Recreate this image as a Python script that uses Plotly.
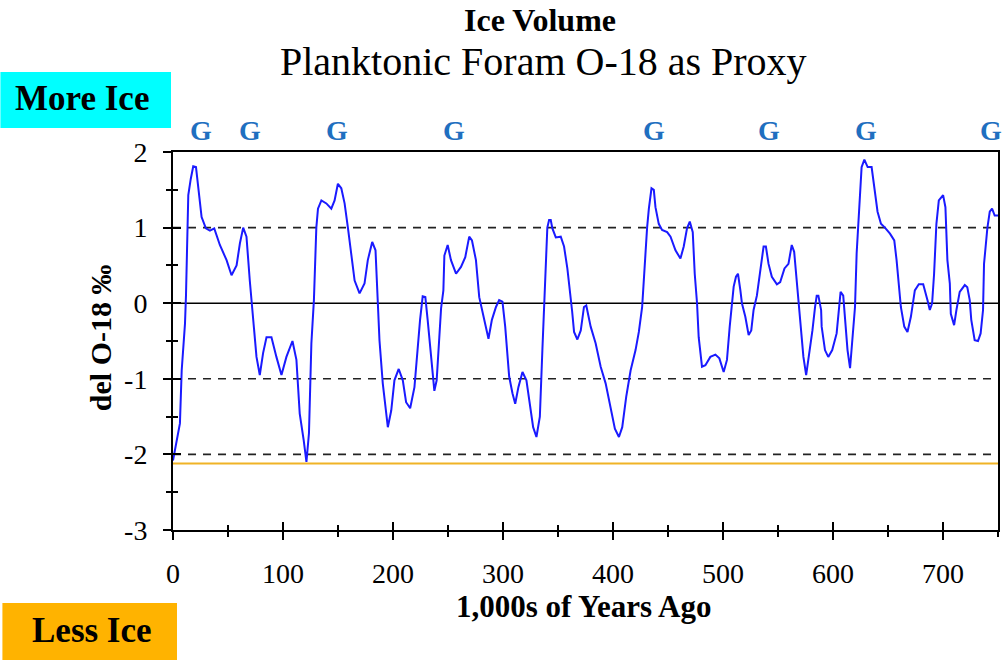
import plotly.graph_objects as go

# ---------------- data ----------------
years_ago = [0, 4.8, 6.3, 7.9, 10.9, 11.8, 13.0, 13.9, 16.1, 18.4, 20.9, 22.9, 26.0, 29.9, 33.6, 37.5,
             42.6, 48.7, 53.2, 57.8, 60.8, 63.8, 66.8, 69.8, 72.3, 72.8, 75.9, 78.9, 81.9, 85.0, 89.5,
             94.0, 98.6, 103.1, 108.6, 112.2, 115.2, 118.8, 121.3, 123.6, 125.8, 128.1, 128.8, 130.3,
             131.8, 134.9, 139.4, 143.9, 146.9, 149.9, 153.0, 156.0, 159.0, 162.1, 165.1, 169.6, 174.1,
             177.1, 181.1, 184.1, 186.2, 187.7, 190.7, 195.3, 198.4, 201.3, 205.2, 208.9, 211.9, 215.6,
             219.5, 222.5, 224.6, 227.0, 229.4, 231.5, 233.1, 236.1, 237.6, 239.7, 242.1, 243.7, 245.8,
             246.7, 249.7, 252.7, 257.3, 261.8, 265.7, 269.3, 271.8, 275.4, 278.4, 281.4, 284.5, 286.8,
             289.9, 293.6, 296.5, 299.5, 302.0, 305.6, 308.6, 311.1, 314.0, 317.7, 321.3, 324.4, 327.4,
             330.4, 333.5, 335.8, 337.4, 338.9, 340.3, 341.9, 343.4, 344.9, 348.0, 352.5, 355.5, 358.5,
             361.6, 362.8, 364.6, 367.6, 370.7, 373.6, 375.7, 379.7, 384.2, 388.8, 393.3, 397.8, 401.7,
             405.4, 408.4, 412.0, 416.0, 420.5, 423.5, 426.5, 428.0, 431.0, 432.6, 435.0, 437.1, 438.6,
             441.6, 444.6, 449.2, 452.3, 456.8, 461.3, 464.3, 467.3, 469.8, 472.5, 474.3, 476.4, 477.9,
             480.9, 484.0, 488.5, 493.1, 496.7, 500.6, 503.6, 506.1, 508.1, 509.7, 511.8, 513.6, 515.8,
             517.2, 520.3, 523.3, 525.7, 527.8, 530.8, 533.9, 536.9, 539.0, 541.4, 544.4, 549.0, 552.0,
             555.9, 559.5, 562.5, 564.7, 567.1, 569.2, 570.1, 573.1, 575.6, 578.6, 581.3, 583.7, 585.2,
             586.7, 589.2, 589.7, 592.7, 595.7, 599.3, 603.3, 605.5, 606.9, 609.3, 610.9, 613.2, 615.5,
             617.5, 620.0, 621.5, 623.0, 624.6, 626.0, 628.5, 631.5, 635.1, 638.2, 640.5, 643.6, 647.2,
             651.8, 655.7, 657.8, 659.9, 661.7, 664.8, 667.7, 670.8, 674.4, 678.0, 682.0, 685.9, 688.0,
             690.1, 691.9, 694.0, 696.2, 700.1, 702.2, 704.0, 706.2, 707.1, 710.1, 712.2, 715.2, 719.8,
             722.1, 724.3, 725.7, 728.8, 731.8, 734.2, 736.4, 737.3, 740.3, 742.5, 744.6, 747.0, 750.0]

del_o18 = [-2.08, -1.72, -1.59, -0.89, -0.27, 0.10, 0.83, 1.43, 1.64, 1.81, 1.80, 1.54, 1.14, 0.99, 0.96, 0.99,
           0.77, 0.57, 0.37, 0.50, 0.79, 1.00, 0.88, 0.30, -0.09, -0.27, -0.71, -0.95, -0.66, -0.45, -0.45,
           -0.71, -0.95, -0.71, -0.50, -0.75, -1.46, -1.81, -2.10, -1.72, -0.53, 0.04, 0.30, 1.00,
           1.25, 1.36, 1.32, 1.25, 1.36, 1.58, 1.52, 1.32, 1.00, 0.68, 0.30, 0.13, 0.26,
           0.57, 0.81, 0.70, 0.00, -0.49, -1.06, -1.64, -1.42, -1.02, -0.87, -1.02, -1.31, -1.39,
           -1.11, -0.58, -0.22, 0.09, 0.08, -0.22, -0.49, -0.97, -1.16, -1.02, -0.53, -0.07, 0.17,
           0.63, 0.77, 0.57, 0.39, 0.48, 0.61, 0.88, 0.83, 0.57, 0.08, -0.13, -0.31, -0.47,
           -0.22, -0.05, 0.04, 0.02, -0.31, -0.97, -1.19, -1.33, -1.11, -0.91, -1.02, -1.37, -1.64,
           -1.77, -1.50, -0.62, -0.05, 0.55, 1.00, 1.10, 1.10, 0.99, 0.87, 0.88, 0.75, 0.46,
           0.10, -0.10, -0.38, -0.48, -0.36, -0.05, -0.03, -0.31, -0.53, -0.84, -1.06, -1.37, -1.66,
           -1.77, -1.64, -1.24, -0.89, -0.62, -0.38, -0.05, 0.35, 1.00, 1.25, 1.52, 1.50, 1.27,
           1.05, 0.97, 0.94, 0.88, 0.70, 0.59, 0.75, 0.99, 1.08, 0.94, 0.39, 0.00, -0.45,
           -0.84, -0.82, -0.71, -0.68, -0.73, -0.91, -0.75, -0.31, -0.05, 0.22, 0.35, 0.39, 0.17,
           0.00, -0.18, -0.42, -0.36, -0.09, 0.10, 0.44, 0.75, 0.75, 0.52, 0.35, 0.25, 0.28,
           0.46, 0.52, 0.77, 0.68, 0.26, 0.00, -0.22, -0.71, -0.95, -0.67, -0.36, -0.05, 0.10,
           0.10, -0.09, -0.31, -0.62, -0.71, -0.62, -0.40, -0.09, 0.15, 0.10, -0.22, -0.62, -0.86,
           -0.45, -0.05, 0.66, 0.99, 1.49, 1.80, 1.90, 1.80, 1.80, 1.49, 1.21, 1.05, 1.00,
           0.92, 0.83, 0.57, 0.22, -0.05, -0.31, -0.38, -0.18, 0.17, 0.25, 0.25, 0.04, -0.09,
           0.00, 0.39, 1.05, 1.36, 1.43, 1.27, 0.57, 0.26, -0.14, -0.29, -0.09, 0.15, 0.24,
           0.21, 0.04, -0.22, -0.49, -0.50, -0.40, -0.09, 0.52, 0.99, 1.21, 1.25, 1.16, 1.16]

glacial_positions = [25, 70, 149, 255, 437, 542, 630, 744]
glacial_label = "G"

y_tick_values = [-3, -2, -1, 0, 1, 2]
y_tick_labels = ["-3", "-2", "-1", "0", "1", "2"]
y_minor_values = [-2.5, -1.5, -0.5, 0.5, 1.5]
x_tick_values = [0, 100, 200, 300, 400, 500, 600, 700]
x_minor_values = [50, 150, 250, 350, 450, 550, 650, 750]

dashed_levels = [1, -1, -2]
zero_level = [0]
baseline_level = [-2.12]

X_RANGE = [0, 750]
Y_RANGE = [-3, 2]

# ---------------- layout geometry (pixels) ----------------
W, H = 1005, 660
PL, PR, PT, PB = 173, 1000, 152, 530


def fx(px):
    return (px - PL) / (PR - PL)


def fy(py):
    return (PB - py) / (PB - PT)


SERIF = "Liberation Serif, Times New Roman, serif"

fig = go.Figure()

fig.add_trace(go.Scatter(
    x=years_ago, y=del_o18, mode="lines",
    line=dict(color="#1a1aff", width=2),
    showlegend=False, hoverinfo="skip"))

# dummy trace to activate overlay axes (for ticks crossing the axis lines)
fig.add_trace(go.Scatter(x=X_RANGE, y=[-10, -10], xaxis="x2", yaxis="y2",
                         mode="lines", line=dict(width=0), showlegend=False, hoverinfo="skip"))

# reference lines
for lv in dashed_levels:
    fig.add_shape(type="line", xref="paper", yref="y", x0=0, x1=1, y0=lv, y1=lv,
                  line=dict(color="#222222", width=1.6, dash="8px,7px"), layer="below")
for lv in zero_level:
    fig.add_shape(type="line", xref="paper", yref="y", x0=0, x1=1, y0=lv, y1=lv,
                  line=dict(color="#000000", width=1.6), layer="below")
for lv in baseline_level:
    fig.add_shape(type="line", xref="paper", yref="y", x0=0, x1=1, y0=lv, y1=lv,
                  line=dict(color="#F0B326", width=2), layer="below")

# More Ice / Less Ice boxes
fig.add_shape(type="rect", xref="paper", yref="paper", x0=fx(0), x1=fx(171), y0=fy(128), y1=fy(72),
              fillcolor="#00FFFF", line=dict(width=0), layer="below")
fig.add_shape(type="rect", xref="paper", yref="paper", x0=fx(2), x1=fx(177), y0=fy(660), y1=fy(603),
              fillcolor="#FFB300", line=dict(width=0), layer="below")

annotations = [
    dict(text="<b>Ice Volume</b>", x=fx(541), y=fy(20), font=dict(size=32, family=SERIF, color="black")),
    dict(text="Planktonic Foram O-18 as Proxy", x=fx(544), y=fy(62), font=dict(size=40, family=SERIF, color="black")),
    dict(text="<b>More Ice</b>", x=fx(82), y=fy(98), font=dict(size=35, family=SERIF, color="black")),
    dict(text="<b>Less Ice</b>", x=fx(92), y=fy(630), font=dict(size=35, family=SERIF, color="black")),
    dict(text="<b>1,000s of Years Ago</b>", x=fx(584), y=fy(606), font=dict(size=31, family=SERIF, color="black")),
    dict(text="<b>del O-18 ‰</b>", x=fx(100), y=fy(338), textangle=-90,
         font=dict(size=30, family=SERIF, color="black")),
]
for a in annotations:
    a.update(xref="paper", yref="paper", showarrow=False, xanchor="center", yanchor="middle")
    fig.add_annotation(**a)

for gx in glacial_positions:
    fig.add_annotation(text="<b>" + glacial_label + "</b>", x=gx, xref="x", y=fy(130), yref="paper",
                       showarrow=False, xanchor="center", yanchor="middle",
                       font=dict(size=28, family=SERIF, color="#1F6FC0"))

tickfont = dict(size=28, family=SERIF, color="black")

fig.update_layout(
    width=W, height=H,
    margin=dict(l=PL, r=W - PR, t=PT, b=H - PB, pad=0),
    paper_bgcolor="white", plot_bgcolor="white",
    showlegend=False,
    xaxis=dict(range=X_RANGE, tickmode="array", tickvals=x_tick_values,
               ticks="outside", ticklen=8, tickwidth=1.6, tickcolor="black",
               minor=dict(tickmode="array", tickvals=x_minor_values, ticks="outside", ticklen=5,
                          tickwidth=1.6, tickcolor="black", showgrid=False),
               showline=True, linecolor="black", linewidth=2, mirror=True,
               showgrid=False, zeroline=False, tickfont=tickfont, ticklabelstandoff=9),
    xaxis2=dict(range=X_RANGE, overlaying="x", anchor="y", side="bottom",
                tickmode="array", tickvals=x_tick_values, ticks="inside", ticklen=8,
                tickwidth=1.6, tickcolor="black",
                minor=dict(tickmode="array", tickvals=x_minor_values, ticks="inside", ticklen=5,
                           tickwidth=1.6, tickcolor="black"),
                showticklabels=False, showgrid=False, zeroline=False, showline=False),
    yaxis=dict(range=Y_RANGE, tickmode="array", tickvals=y_tick_values, ticktext=y_tick_labels,
               ticks="outside", ticklen=8, tickwidth=1.6, tickcolor="black",
               minor=dict(tickmode="array", tickvals=y_minor_values, ticks="outside", ticklen=5,
                          tickwidth=1.6, tickcolor="black", showgrid=False),
               showline=True, linecolor="black", linewidth=2, mirror=True,
               showgrid=False, zeroline=False, tickfont=tickfont, ticklabelstandoff=10),
    yaxis2=dict(range=Y_RANGE, overlaying="y", anchor="x", side="left",
                tickmode="array", tickvals=y_tick_values, ticks="inside", ticklen=8,
                tickwidth=1.6, tickcolor="black",
                minor=dict(tickmode="array", tickvals=y_minor_values, ticks="inside", ticklen=5,
                           tickwidth=1.6, tickcolor="black"),
                showticklabels=False, showgrid=False, zeroline=False, showline=False),
)

fig.write_html("out.html")
